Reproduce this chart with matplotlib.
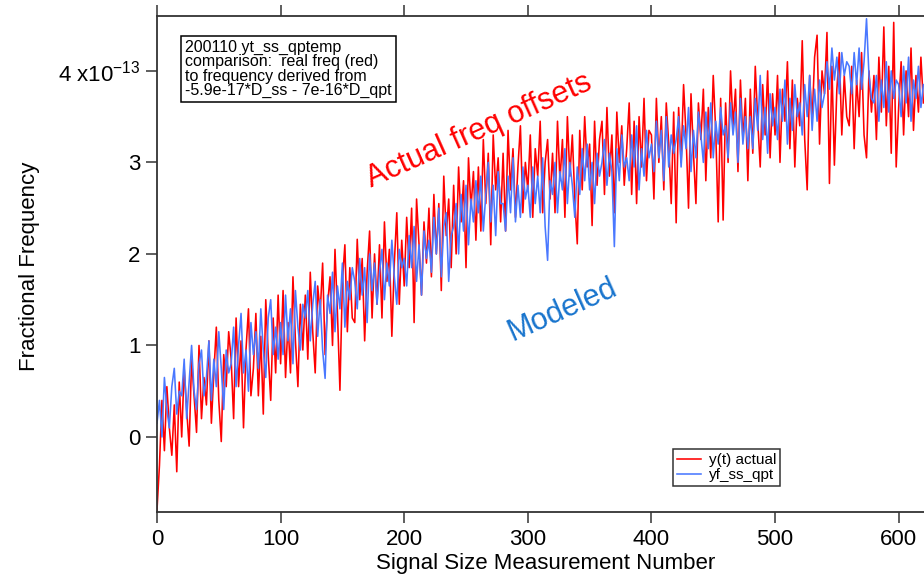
import matplotlib.pyplot as plt
import numpy as np

plt.rcParams['font.family'] = ['Liberation Sans', 'DejaVu Sans']
plt.rcParams['mathtext.fontset'] = 'custom'
plt.rcParams['mathtext.rm'] = 'Liberation Sans'

# one sample every 2 measurement numbers
step = 2

# fractional frequency, in units of 1e-13
red = [
    -0.80, -0.31, 0.40, -0.15, 0.55, 0.10, -0.20, 0.35, -0.38, 0.60,
    0.00, 0.75, 0.30, -0.10, 0.85, 0.45, 0.05, 1.00, 0.20, 0.65,
    0.35, 1.05, 0.15, 0.70, 1.20, 0.40, -0.05, 0.90, 0.55, 1.15,
    0.85, 0.20, 1.30, 0.55, 1.05, 0.10, 0.95, 1.40, 0.45, 0.75,
    1.35, 0.45, 1.10, 0.25, 1.50, 0.90, 0.40, 1.30, 0.70, 1.55,
    0.80, 1.60, 0.65, 1.25, 0.70, 1.75, 1.05, 0.55, 1.45, 0.95,
    1.55, 0.85, 1.80, 1.15, 0.70, 1.65, 1.35, 1.90, 0.90, 1.45,
    1.75, 1.00, 2.05, 1.35, 0.51, 1.70, 2.10, 1.15, 1.85, 1.30,
    1.25, 2.16, 1.50, 1.95, 1.05, 1.80, 2.25, 1.30, 2.00, 1.45,
    2.10, 1.30, 2.35, 1.70, 2.05, 1.10, 1.90, 2.45, 1.45, 2.15,
    1.65, 2.40, 1.85, 2.50, 1.25, 2.60, 2.10, 1.55, 2.35, 1.90,
    2.50, 1.75, 2.65, 2.00, 2.55, 1.60, 2.85, 2.20, 2.60, 1.85,
    2.75, 2.00, 2.95, 2.35, 2.80, 1.85, 3.05, 2.50, 2.90, 2.15,
    2.95, 2.25, 3.25, 2.55, 3.10, 2.10, 3.30, 2.70, 3.05, 2.35,
    3.10, 2.25, 3.35, 2.70, 3.15, 2.40, 2.95, 3.40, 2.45, 3.00,
    2.70, 3.30, 2.40, 3.15, 2.85, 3.45, 2.45, 3.00, 3.25, 2.60,
    3.10, 2.45, 3.45, 2.80, 3.25, 2.40, 3.50, 2.85, 3.30, 2.60,
    2.11, 3.35, 2.70, 3.50, 2.95, 3.20, 2.31, 3.45, 2.75, 3.25,
    3.45, 2.65, 3.60, 2.85, 3.30, 2.45, 3.55, 3.00, 3.40, 2.75,
    3.15, 3.65, 2.65, 3.45, 2.55, 3.50, 2.95, 3.70, 2.80, 3.35,
    3.30, 2.60, 3.70, 3.00, 3.50, 2.70, 3.65, 3.20, 2.55, 3.55,
    2.34, 3.60, 3.00, 3.85, 3.30, 2.50, 3.75, 3.10, 2.55, 3.65,
    3.25, 3.80, 2.80, 3.60, 3.05, 3.95, 3.35, 2.35, 3.70, 2.37,
    3.65, 3.00, 4.00, 3.40, 3.80, 2.90, 3.90, 3.25, 3.70, 2.80,
    3.80, 3.10, 4.05, 3.45, 2.95, 3.85, 3.30, 4.00, 3.05, 3.75,
    3.30, 3.95, 3.00, 3.80, 3.45, 4.10, 3.15, 3.90, 2.95, 3.70,
    3.40, 4.33, 3.25, 2.70, 3.95, 3.45, 4.15, 4.39, 3.20, 4.00,
    3.75, 4.42, 2.77, 4.05, 2.97, 3.80, 4.20, 3.30, 3.95, 3.50,
    3.40, 4.05, 3.15, 3.90, 3.50, 4.20, 3.30, 3.05, 4.00, 3.55,
    3.95, 3.25, 4.15, 3.55, 4.48, 3.40, 4.05, 3.10, 4.53, 2.95,
    3.60, 4.10, 3.30, 4.00, 3.50, 4.25, 3.35, 3.95, 3.55, 4.15,
    3.65,
]

blue = [
    0.15, 0.40, 0.00, 0.65, 0.30, 0.10, 0.55, 0.75, 0.25, 0.50,
    0.45, 0.85, 0.20, 0.60, 1.00, 0.50, 0.30, 0.80, 0.95, 0.45,
    0.65, 1.05, 0.40, 0.85, 0.55, 1.15, 0.75, 0.30, 0.95, 0.70,
    0.80, 1.20, 0.55, 1.00, 1.35, 0.70, 0.95, 0.50, 1.25, 0.90,
    1.15, 0.75, 1.40, 0.95, 0.65, 1.30, 1.50, 0.90, 1.20, 0.85,
    1.25, 0.90, 1.55, 1.05, 1.40, 0.80, 1.60, 1.20, 0.95, 1.45,
    1.30, 1.60, 1.05, 1.45, 1.70, 1.10, 1.50, 0.95, 0.64, 1.55,
    1.35, 1.80, 1.15, 1.65, 1.40, 1.90, 1.20, 1.70, 1.50, 1.85,
    1.70, 1.40, 1.95, 1.55, 1.85, 1.25, 2.00, 1.60, 1.90, 1.45,
    1.80, 2.05, 1.50, 1.90, 1.65, 2.15, 1.75, 1.45, 2.05, 1.85,
    1.95, 1.65, 2.20, 1.85, 2.30, 1.70, 2.10, 1.55, 2.25, 1.95,
    2.15, 1.80, 2.40, 2.00, 2.50, 1.75, 2.30, 2.45, 1.70, 2.20,
    2.30, 2.55, 2.00, 2.65, 2.25, 2.75, 2.10, 2.60, 2.35, 2.80,
    2.45, 2.85, 2.25, 2.65, 3.00, 2.35, 2.75, 2.20, 2.90, 2.55,
    2.55, 2.25, 2.85, 2.45, 3.05, 2.35, 2.75, 2.40, 2.95, 2.60,
    2.75, 2.40, 2.95, 2.55, 2.85, 2.45, 3.05, 2.30, 1.93, 2.80,
    2.65, 3.00, 2.45, 2.90, 2.70, 3.15, 2.55, 3.00, 2.75, 2.40,
    2.95, 2.65, 3.15, 2.80, 3.20, 2.70, 3.00, 2.55, 3.10, 2.85,
    3.00, 3.25, 2.75, 3.10, 2.90, 2.08, 3.15, 2.80, 3.30, 2.95,
    3.05, 2.80, 3.30, 2.95, 3.40, 2.70, 3.15, 2.85, 3.35, 3.05,
    3.20, 2.90, 3.45, 3.05, 3.35, 2.80, 3.50, 2.95, 3.30, 3.10,
    3.25, 3.50, 2.95, 3.40, 3.15, 3.60, 2.90, 3.35, 3.05, 3.55,
    3.30, 3.00, 3.55, 3.15, 3.65, 3.05, 3.45, 3.20, 3.60, 3.30,
    3.40, 3.05, 3.65, 3.30, 3.55, 3.00, 3.70, 3.20, 3.50, 3.15,
    3.50, 3.15, 3.70, 3.35, 3.95, 3.25, 3.60, 3.10, 3.75, 3.40,
    3.60, 3.25, 3.80, 3.45, 3.90, 3.20, 3.70, 3.35, 3.85, 3.50,
    3.65, 3.30, 3.85, 3.50, 3.95, 3.35, 3.80, 3.45, 3.90, 3.60,
    3.75, 4.10, 3.80, 4.25, 3.90, 4.15, 3.75, 4.20, 3.95, 4.10,
    4.05, 3.75, 4.20, 3.85, 4.25, 3.80, 4.10, 4.57, 3.95, 3.70,
    3.65, 3.95, 3.45, 3.90, 3.60, 4.10, 3.55, 4.00, 3.70, 3.90,
    3.85, 3.50, 4.05, 3.65, 4.15, 3.45, 3.90, 3.70, 4.05, 3.60,
    3.85,
]

yticks = [0, 1, 2, 3, 4]
yticklabels = ['0', '1', '2', '3', '4 x10$^{-13}$']
xticks = [0, 100, 200, 300, 400, 500, 600]

fig = plt.figure(figsize=(9.24, 5.79), dpi=100)
ax = fig.add_axes([0.1699, 0.1157, 0.8301, 0.8567])

ax.plot(np.arange(len(red)) * step, red, color='#ff0000', lw=1.15, label='y(t) actual')
ax.plot(np.arange(len(blue)) * step, blue, color='#4a78ff', lw=1.15, label='yf_ss_qpt')

ax.set_xlim(0, 620.5)
ax.set_ylim(-0.82, 4.6)
ax.set_xticks(xticks)
ax.set_yticks(yticks)
ax.set_yticklabels(yticklabels)

for s in ['left', 'bottom', 'top']:
    ax.spines[s].set_linewidth(1.3)
    ax.spines[s].set_color('#333333')
ax.spines['right'].set_visible(False)
ax.tick_params(axis='both', direction='out', length=8, width=1.1, labelsize=16, pad=4, color='#333333')
ax.tick_params(axis='x', top=True, labeltop=False)

ax.set_xlabel('Signal Size Measurement Number', fontsize=16)
ax.xaxis.set_label_coords(0.507, -0.082)
ax.set_ylabel('Fractional Frequency', fontsize=16)
ax.yaxis.set_label_coords(-0.153, 0.496)

ax.text(0.0365, 0.952, '200110 yt_ss_qptemp\ncomparison:  real freq (red)\nto frequency derived from\n-5.9e-17*D_ss - 7e-16*D_qpt',
        transform=ax.transAxes, ha='left', va='top', fontsize=11.5, linespacing=0.95,
        bbox=dict(boxstyle='square,pad=0.25', fc='white', ec='black', lw=1.1))

ax.text(261, 3.35, 'Actual freq offsets', color='#ff0000', fontsize=22,
        rotation=24, ha='center', va='center')
ax.text(328, 1.39, 'Modeled', color='#1874cd', fontsize=22, rotation=24, ha='center', va='center')

leg = ax.legend(loc='lower left', bbox_to_anchor=(0.673, 0.052), fontsize=11, frameon=True,
                fancybox=False, edgecolor='black', handlelength=1.6, handletextpad=0.5,
                borderpad=0.25, labelspacing=0.1, borderaxespad=0)
leg.get_frame().set_linewidth(1.1)

fig.savefig('out.png', dpi=100)
